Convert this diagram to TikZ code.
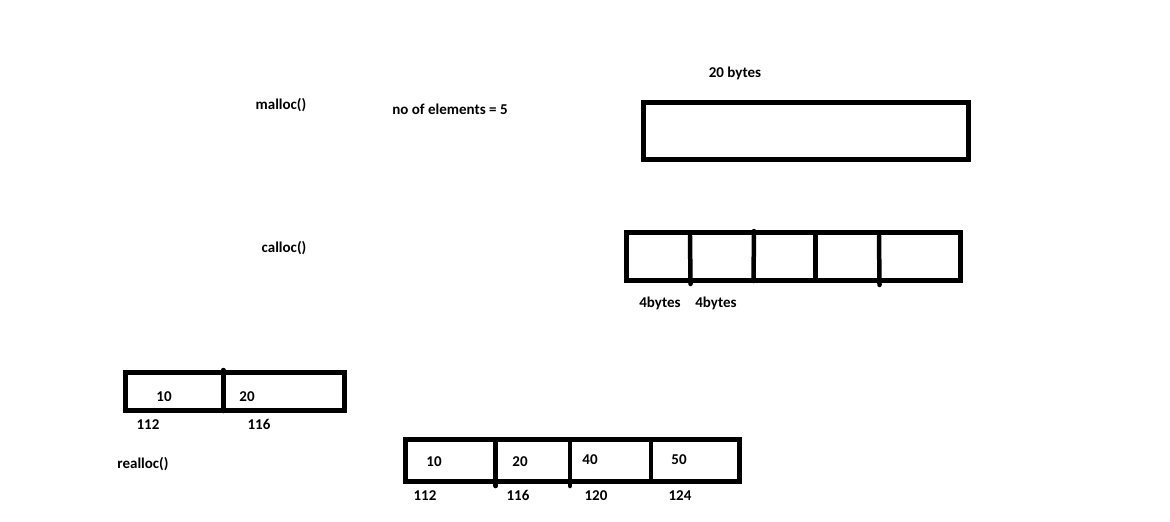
\documentclass[tikz,border=0pt]{standalone}
\usepackage{fontspec}
\setmainfont{Carlito}
\usetikzlibrary{positioning}

\begin{document}
\begin{tikzpicture}[
    x=1pt, y=-1pt,
    font=\bfseries\fontsize{15}{18}\selectfont,
    wall/.style={draw=black, line width=5pt},
    divider/.style={draw=black, line width=4.5pt, line cap=round},
    lbl/.style={inner sep=0pt, text=black, text height=10pt, text depth=3pt, yshift=-1pt}
]
\useasboundingbox[fill=white] (0,0) rectangle (1170,522);

% Labels for the functions
\node[lbl] (malloc) at (281,105) {malloc()};
\node[lbl] (calloc) at (284,248) {calloc()};
\node[lbl] (realloc) at (143,464) {realloc()};
\node[lbl] (count) at (450,110) {no of elements = 5};

% malloc: one 20 byte block
\node[lbl] (size) at (735,73) {20 bytes};
\draw[wall] (643.5,102.5) rectangle (968,159);

% calloc: five blocks of 4 bytes
\draw[wall] (626.5,232.5) rectangle (960.5,280);
\draw[divider] (690,236) -- (690.5,284);
\draw[divider] (754,231) -- (753.5,281);
\draw[divider] (815.5,235) -- (815.5,279);
\draw[divider] (879,236) -- (879.5,285);
\node[lbl] (cella) at (660,303) {4bytes};
\node[lbl] (cellb) at (716,303) {4bytes};

% realloc: before
\draw[wall] (125,372.5) rectangle (344,410);
\draw[divider] (223.3,370) -- (223.3,411);
\node[lbl] (oldA) at (164,397) {10};
\node[lbl] (oldB) at (247,397) {20};
\node[lbl] (addrA) at (148,425) {112};
\node[lbl] (addrB) at (259,425) {116};

% realloc: after
\draw[wall] (405,439) rectangle (739,481);
\draw[divider] (495.7,441) -- (495.7,486);
\draw[divider] (570,441) -- (570,486);
\draw[divider] (651,441) -- (651,480);
\node[lbl] (newA) at (434,462) {10};
\node[lbl] (newB) at (520,462) {20};
\node[lbl] (newC) at (590,460) {40};
\node[lbl] (newD) at (679,460) {50};
\node[lbl] (naddrA) at (425,496) {112};
\node[lbl] (naddrB) at (518,496) {116};
\node[lbl] (naddrC) at (596,496) {120};
\node[lbl] (naddrD) at (680,496) {124};
\end{tikzpicture}
\end{document}
